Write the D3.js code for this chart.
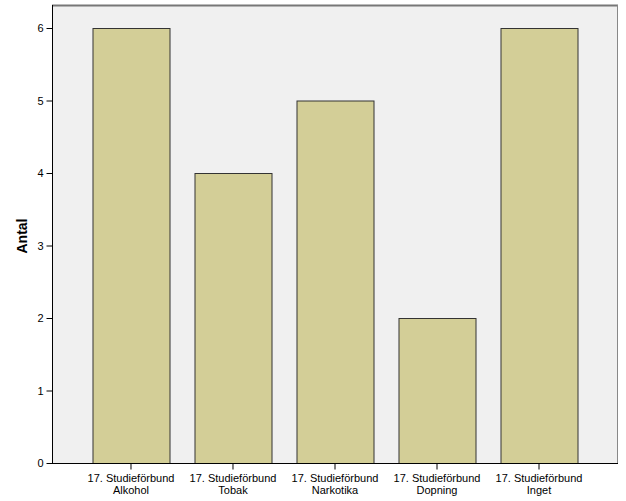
<!DOCTYPE html>
<html><head><meta charset="utf-8">
<script src="https://cdn.jsdelivr.net/npm/d3@7"></script>
<style>body{margin:0;background:#fff}svg{display:block}text{font-family:"Liberation Sans",Arial,sans-serif}</style>
</head><body>
<script>
const categories = ["17. Studieförbund|Alkohol","17. Studieförbund|Tobak","17. Studieförbund|Narkotika","17. Studieförbund|Dopning","17. Studieförbund|Inget"];
const values = [6,4,5,2,6];
const yTicks = [0,1,2,3,4,5,6];
const yLabel = "Antal";

const W=626,H=501;
const L=52,R=618,T=5,B=463;
const svg=d3.select("body").append("svg").attr("width",W).attr("height",H);
const x=d3.scaleBand().domain(categories).range([L,R]).paddingInner(0.245).paddingOuter(0.397);
const y=d3.scaleLinear().domain([0,6]).range([B,28]);

svg.append("rect").attr("x",L).attr("y",T).attr("width",R-L).attr("height",B-T).attr("fill","#f0f0f0");
svg.append("line").attr("x1",L).attr("x2",R).attr("y1",T+0.5).attr("y2",T+0.5).attr("stroke","#777").attr("stroke-width",2);
svg.append("line").attr("x1",R-0.5).attr("x2",R-0.5).attr("y1",T).attr("y2",B).attr("stroke","#888");

svg.selectAll("rect.bar").data(categories).enter().append("rect").attr("class","bar")
 .attr("x",d=>x(d)+0.5).attr("y",(d,i)=>y(values[i])+0.5)
 .attr("width",x.bandwidth()).attr("height",(d,i)=>B-y(values[i]))
 .attr("fill","#d3ce97").attr("stroke","#333").attr("stroke-width",1);

const ya=svg.append("g").attr("transform",`translate(${L+0.5},0)`).call(d3.axisLeft(y).tickValues(yTicks).tickSize(6).tickPadding(3).tickFormat(d3.format("d")));
ya.select(".domain").attr("stroke","#000").attr("d",`M0,${T}V${B}`);
ya.selectAll("text").attr("font-size",11).attr("fill","#000").style("font-family","Liberation Sans, Arial, sans-serif");

const xa=svg.append("g").attr("transform",`translate(0,${B+0.5})`).call(d3.axisBottom(x).tickSize(6).tickFormat(""));
xa.select(".domain").attr("stroke","#000").attr("d",`M${L},0H${R}`);
xa.selectAll(".tick").each(function(d){
  const parts=d.split("|");
  const t=d3.select(this).append("text").attr("fill","#000").attr("font-size",11).attr("text-anchor","middle").style("font-family","Liberation Sans, Arial, sans-serif");
  parts.forEach((p,i)=>t.append("tspan").attr("x",0).attr("y",18+i*12).text(p));
});

svg.append("text").attr("transform",`translate(27,${(T+B)/2+2}) rotate(-90)`).attr("text-anchor","middle")
 .attr("font-size",14).attr("font-weight","bold").text(yLabel);
</script>
</body></html>
